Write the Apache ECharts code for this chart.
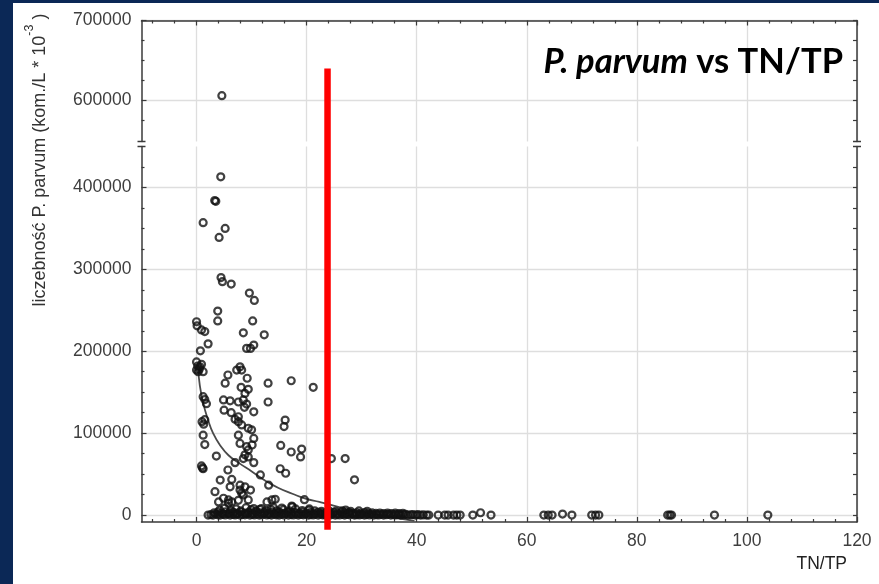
<!DOCTYPE html>
<html><head><meta charset="utf-8">
<script src="https://cdn.jsdelivr.net/npm/echarts@6/dist/echarts.min.js"></script>
<style>
html,body{margin:0;padding:0;background:#0b2856;}
#c{position:absolute;left:0;top:0;width:879px;height:584px;
background:linear-gradient(#fff,#fff) 13px 3px/866px 581px no-repeat,#0b2856;}
</style></head><body><div id="c"></div>
<script>
// ---- axis ticks ----
const xRange = [-10, 120];
const xMajorTicks = [0, 20, 40, 60, 80, 100, 120];
const xMinorTicks = [-8,-4,4,8,12,16,24,28,32,36,44,48,52,56,64,68,72,76,84,88,92,96,104,108,112,116];
const yLowerRange = [-8500, 450000];
const yUpperRange = [548750, 700000];
const yMajorLower = [0, 100000, 200000, 300000, 400000];
const yMinorLower = [25000,50000,75000,125000,150000,175000,225000,250000,275000,325000,350000,375000,425000];
const yMajorUpper = [600000, 700000];
const yMinorUpper = [575000, 625000, 650000, 675000];

// ---- data: [TN/TP, count] ----
const scatterPoints = [
[4.6,606000],[4.4,413000],[3.3,384000],[3.5,383000],[1.2,357000],[5.2,350000],[4.1,339000],
[4.45,290000],[4.7,285000],[6.3,282000],[9.6,271000],[10.5,262000],[3.85,249000],[3.85,237000],
[10.2,237000],[0.0,236000],[0.1,231000],[0.9,226000],[1.5,224000],[8.5,222500],[12.3,220000],
[2.1,209000],[0.7,200500],[9.1,203500],[10.4,207500],[9.8,203500],
[0.0,187000],[0.2,182000],[0.6,181000],[0.0,177000],[0.3,175000],[0.5,178000],[1.2,175000],[0.9,184000],
[7.9,181000],[8.2,177000],[7.3,177000],[5.7,171000],[5.2,161000],[9.2,167000],[13.0,161000],
[17.2,164000],[21.2,156000],[8.1,156000],[9.4,153500],[8.8,148500],[1.2,144500],[1.5,141000],
[1.8,136000],[4.9,140500],[6.1,139500],[7.6,138000],[8.5,140500],[9.1,135500],[13.0,138000],
[5.0,128000],[6.3,125000],[7.6,120000],[8.7,131500],[10.4,126000],[1.0,114000],[1.3,111000],
[1.5,116500],[7.0,117000],[7.6,114000],[8.2,110000],[9.4,106000],[10.0,104000],[16.1,116000],
[15.9,108000],[1.2,97500],[1.5,86000],[7.6,97500],[7.9,87500],[10.4,93500],[9.1,83500],
[9.4,79500],[10.1,85500],[15.3,85000],[17.2,77000],[19.1,80500],[18.9,71000],[3.6,72000],
[8.8,73500],[9.4,71000],[8.5,69000],[24.5,69000],[27.0,69000],[7.0,64000],[10.4,64000],
[0.9,60000],[1.1,57500],[1.2,56500],[5.7,55000],[15.2,56500],[16.2,51000],[11.6,49000],
[28.7,43000],[4.3,42700],[6.4,43500],[7.9,36500],[8.8,34500],[9.8,30500],[7.9,30500],
[13.1,36500],[6.1,34500],[3.35,28500],[8.2,26500],[4.0,16000],[4.9,20500],[5.8,14500],
[5.8,18500],[6.4,16000],[9.4,18500],[12.8,16000],[13.7,18500],[14.3,19200],[19.6,18800],
[17.3,11000],[15.5,8500],[17.4,10000],[27.1,6000],[10.4,8000],[11.5,7000],[14.0,9000],
[20.5,7500],[7.6,18000],[8.5,24500]
];
const bandPoints = [
[2.1,0],[2.6,500],[3.0,0],[3.5,1200],[3.9,300],[4.3,0],[4.8,900],[5.2,200],[5.7,1400],[6.1,0],
[6.6,700],[7.0,100],[7.4,1100],[7.9,0],[8.3,600],[8.8,300],[9.2,1300],[9.7,0],[10.1,800],[10.5,200],
[11.0,1000],[11.4,0],[11.9,500],[12.3,1200],[12.8,100],[13.2,700],[13.6,0],[14.1,1100],[14.5,300],[15.0,0],
[15.4,900],[15.9,200],[16.3,1300],[16.7,0],[17.2,600],[17.6,100],[18.1,1000],[18.5,0],[19.0,700],[19.4,300],
[19.8,1200],[20.3,0],[20.7,500],[21.2,100],[21.6,900],[22.1,0],[22.5,1100],[22.9,300],[23.4,0],[23.8,800],
[24.3,200],[24.7,1000],[25.2,0],[25.6,600],[26.0,100],[26.5,900],[26.9,0],[27.4,700],[27.8,300],[28.3,1000],
[28.7,0],[29.1,500],[29.6,100],[30.0,800],[30.5,0],[30.9,600],[31.4,200],[31.8,900],[32.2,0],[32.7,500],
[33.1,100],[33.6,700],[34.0,0],[34.5,400],[34.9,900],[35.3,0],[35.8,500],[36.2,100],[36.7,700],[37.1,0],
[37.6,400],[38.0,800],[38.4,0],[38.9,300],[39.3,600],[39.8,0],[40.2,400],[40.7,0],[41.2,200],
[3.2,2800],[3.9,3500],[4.6,2400],[5.3,3900],[6.0,2600],[6.7,3300],[7.4,2200],[8.1,3700],[8.8,2500],[9.5,3400],
[10.2,2300],[10.9,3800],[11.6,2700],[12.3,3200],[13.0,2100],[13.7,3600],[14.4,2400],[15.1,3300],[15.8,2200],[16.5,3700],
[17.2,2600],[17.9,3100],[18.6,2300],[19.3,3500],[20.0,2500],[20.7,3000],[21.4,2200],[22.1,3400],[22.8,2400],[23.5,2900],
[24.2,2100],[24.9,3200],[25.6,2300],[26.3,2800],[27.0,2000],[27.7,3000],[28.4,2200],[29.1,2700],[29.8,2000],[30.5,2900],
[31.2,2100],[31.9,2600],[32.6,2000],[33.3,2500],[34.0,1900],[34.7,2400],[35.4,1800],[36.1,2300],[36.8,1800],[37.5,2100],
[4.2,6000],[5.1,8500],[6.3,5500],[7.2,7500],[8.0,5000],[9.0,9000],[9.9,6500],[10.8,5000],[11.8,8000],[12.6,5500],
[13.5,7000],[14.6,5000],[15.8,6500],[16.9,5000],[18.0,7500],[19.2,5500],[20.4,6000],[21.5,5000],[22.7,4500],[24.0,5500],
[25.3,4500],[26.5,5000],[28.0,4500],[29.5,5000],[31.0,4500]
];
const tailPoints = [
[41.8,0],[42.2,0],[43.9,0],[45.1,0],[45.7,0],[46.7,0],[47.3,0],[47.9,0],[50.2,0],[51.6,2800],
[53.5,0],[63.1,0],[63.9,0],[64.6,0],[66.5,1200],[68.2,0],[71.8,0],[72.5,0],[73.1,0],[85.6,0],
[86.0,0],[86.3,0],[94.1,0],[103.8,0]
];
const fitCurve = [
[0.3,179000],[0.6,158000],[1.2,137000],[2.1,116000],[3.0,100000],[4.3,85000],[5.8,73000],
[7.6,64000],[10.1,53000],[12.5,42000],[14.9,33000],[17.4,26000],[19.8,20000],[22.3,16000],
[24.4,12500],[27.4,7000],[30.5,3000],[33.5,0],[36.6,-4000],[39.6,-7000]
];
const refLine = {x: 23.8, top: 640000, bottom: -18000};
const breakValues = {upperMin: yUpperRange[0], lowerMax: yLowerRange[1]};

// ---- styles ----
const FRAME = '#3a3a3a', GRIDC = '#dedede', LABC = '#3e3e3e';
const FONT = 'Liberation Sans';
const fmt = v => String(v);

const chart = echarts.init(document.getElementById('c'), null, {renderer: 'canvas'});

function mainAxis(gridIndex, position, range, majors, withLabels) {
  return {
    type: 'value', gridIndex, position, min: range[0], max: range[1],
    axisLine: {show: true, onZero: false, lineStyle: {color: FRAME, width: 1.5}},
    axisTick: {show: true, inside: true, length: 5, customValues: majors, lineStyle: {color: FRAME, width: 1.2}},
    axisLabel: withLabels ? {show: true, customValues: majors, formatter: fmt, color: LABC, fontSize: 17.5, fontFamily: FONT, margin: 10} : {show: false},
    splitLine: {show: true, lineStyle: {color: GRIDC, width: 1.3}},
    minorTick: {show: false}, minorSplitLine: {show: false}
  };
}
function tickAxis(gridIndex, position, range, ticks, len, showLine) {
  return {
    type: 'value', gridIndex, position, min: range[0], max: range[1],
    axisLine: {show: !!showLine, onZero: false, lineStyle: {color: FRAME, width: 1.5}},
    axisTick: {show: true, inside: true, length: len, customValues: ticks, lineStyle: {color: FRAME, width: 1.2}},
    axisLabel: {show: false}, splitLine: {show: false}
  };
}

const xAxes = [
  Object.assign(mainAxis(1, 'bottom', xRange, xMajorTicks, true), {
    name: 'TN/TP', nameLocation: 'end', nameGap: -10,
    nameTextStyle: {color: '#222', fontSize: 17.5, fontFamily: FONT, align: 'right', verticalAlign: 'top', padding: [33, 0, 0, 0]}
  }),
  tickAxis(1, 'bottom', xRange, xMinorTicks, 3),
  mainAxis(0, 'top', xRange, xMajorTicks, false),
  tickAxis(0, 'top', xRange, xMinorTicks, 3)
];
const yAxes = [
  mainAxis(0, 'left', yUpperRange, yMajorUpper, true),
  tickAxis(0, 'left', yUpperRange, yMinorUpper, 3),
  tickAxis(0, 'right', yUpperRange, yMajorUpper.concat(yMinorUpper), 4, true),
  mainAxis(1, 'left', yLowerRange, yMajorLower, true),
  tickAxis(1, 'left', yLowerRange, yMinorLower, 3),
  tickAxis(1, 'right', yLowerRange, yMajorLower.concat(yMinorLower), 4, true)
];

const circleStyle = {color: 'rgba(255,255,255,0)', borderColor: '#111', borderWidth: 2.2};
const upperData = scatterPoints.filter(p => p[1] > breakValues.lowerMax);
const lowerData = scatterPoints.filter(p => p[1] <= breakValues.lowerMax).concat(bandPoints, tailPoints);

chart.setOption({
  animation: false,
  backgroundColor: 'transparent',
  grid: [
    {left: 141.5, width: 715.5, top: 20.5, height: 121, containLabel: false},
    {left: 141.5, width: 715.5, top: 146.5, height: 375.5, containLabel: false}
  ],
  xAxis: xAxes,
  yAxis: yAxes,
  series: [
    {type: 'line', xAxisIndex: 0, yAxisIndex: 3, data: fitCurve, smooth: true, showSymbol: false,
     lineStyle: {color: '#4a4a4a', width: 1.8}, z: 1, silent: true},
    {type: 'scatter', xAxisIndex: 0, yAxisIndex: 3, data: lowerData, symbol: 'circle', symbolSize: 7,
     itemStyle: circleStyle, z: 2, silent: true},
    {type: 'scatter', xAxisIndex: 2, yAxisIndex: 0, data: upperData, symbol: 'circle', symbolSize: 7,
     itemStyle: circleStyle, z: 2, silent: true}
  ]
});

// decorations positioned through the axes
const X = v => chart.convertToPixel({xAxisIndex: 0}, v);
const YU = v => chart.convertToPixel({yAxisIndex: 0}, v);
const YL = v => chart.convertToPixel({yAxisIndex: 3}, v);
const rx = X(refLine.x), rTop = YU(refLine.top), rBot = YL(refLine.bottom);
const xl = X(xRange[0]), xr = X(xRange[1]);
const gb1 = YU(breakValues.upperMin), gb2 = YL(breakValues.lowerMax);
const brk = [];
[xl, xr].forEach(xx => {
  [gb1, gb2].forEach(yy => {
    brk.push({type: 'line', shape: {x1: xx - 4, y1: yy, x2: xx + 4, y2: yy},
      style: {stroke: FRAME, lineWidth: 1.5}, z: 50});
  });
});
chart.setOption({
  graphic: [
    {type: 'rect', shape: {x: rx - 3.25, y: rTop, width: 6.5, height: rBot - rTop},
     style: {fill: '#ff0000'}, z: 100, silent: true},
    ...brk,
    {type: 'text', x: 40, y: 160, rotation: Math.PI / 2, z: 50,
     style: {text: '{a|liczebność P. parvum (kom./L * 10}{s|-3}{a| )}', align: 'center', verticalAlign: 'middle',
       rich: {a: {fontSize: 18, fontFamily: FONT, fill: '#333', lineHeight: 34},
              s: {fontSize: 12.5, fontFamily: FONT, fill: '#333', lineHeight: 10, verticalAlign: 'top'}}}},
    {type: 'text', x: 843, y: 62, z: 50,
     style: {text: '{i|P. parvum}{b| vs TN/TP}', align: 'right', verticalAlign: 'middle',
       rich: {i: {fontSize: 34.5, fontFamily: 'Lato', fontWeight: 'bold', fontStyle: 'italic', fill: '#000'},
              b: {fontSize: 34.5, fontFamily: 'Lato', fontWeight: 'bold', fill: '#000'}}}}
  ]
});
</script></body></html>
